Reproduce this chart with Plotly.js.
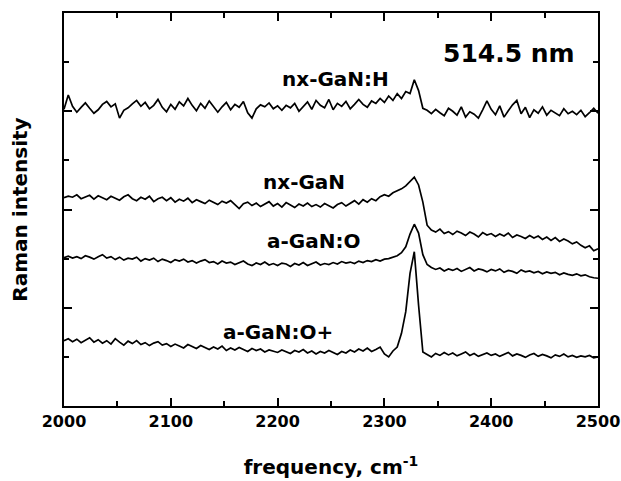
<!DOCTYPE html>
<html>
<head>
<meta charset="utf-8">
<script src="https://cdn.plot.ly/plotly-3.0.1.min.js"></script>
<style>html,body{margin:0;padding:0;background:#fff;}#chart{width:621px;height:481px;}</style>
</head>
<body>
<div id="chart"></div>
<script>
// frequency grid, cm^-1 (2000..2500 step 4)
const frequency = [];
for (let f = 2000; f <= 2500; f += 4) frequency.push(f);

const seriesNames = ["nx-GaN:H", "nx-GaN", "a-GaN:O", "a-GaN:O+"];

const nxGaNH = [
  6.04, 6.33, 6.10, 5.98, 6.08, 6.17, 6.06, 5.96, 6.03, 6.14,
  6.20, 6.09, 6.15, 5.86, 6.02, 6.07, 6.15, 6.22, 6.10, 6.18,
  6.05, 6.12, 6.24, 6.08, 5.99, 6.14, 6.04, 6.19, 6.11, 6.26,
  6.12, 6.01, 6.16, 6.06, 6.21, 6.10, 5.98, 6.09, 6.18, 6.03,
  6.14, 6.08, 6.20, 5.97, 5.86, 6.05, 6.13, 6.09, 6.17, 6.05,
  6.11, 6.02, 6.12, 6.07, 6.16, 6.00, 6.09, 6.19, 6.04, 6.22,
  6.12, 6.07, 6.24, 6.03, 6.16, 6.10, 6.20, 6.05, 6.14, 6.24,
  6.14, 6.08, 6.21, 6.16, 6.26, 6.18, 6.31, 6.22, 6.36, 6.26,
  6.40, 6.36, 6.64, 6.42, 6.06, 6.02, 5.95, 6.04, 5.97, 5.91,
  6.06, 6.00, 5.92, 6.09, 5.88, 5.99, 5.94, 5.86, 6.03, 6.21,
  6.04, 5.93, 6.11, 5.88, 6.01, 6.13, 6.22, 5.95, 6.08, 5.87,
  6.03, 5.96, 6.09, 5.92, 6.02, 5.97, 5.91, 6.05, 5.95, 6.00,
  5.93, 6.02, 5.89, 5.97, 6.06, 5.96
];

const nxGaN = [
  4.24, 4.27, 4.25, 4.30, 4.22, 4.26, 4.29, 4.21, 4.28, 4.24,
  4.20, 4.27, 4.23, 4.19, 4.26, 4.30, 4.22, 4.18, 4.25, 4.21,
  4.27, 4.16, 4.22, 4.25, 4.18, 4.24, 4.15, 4.21, 4.17, 4.23,
  4.14, 4.20, 4.16, 4.12, 4.19, 4.15, 4.10, 4.17, 4.13, 4.18,
  4.09, 4.02, 4.12, 4.15, 4.08, 4.13, 4.06, 4.11, 4.16, 4.07,
  4.12, 4.05, 4.14, 4.09, 4.04, 4.11, 4.07, 4.13, 4.06, 4.10,
  4.05, 4.12, 4.08, 4.03, 4.10, 4.14, 4.07, 4.12, 4.18, 4.11,
  4.20, 4.15, 4.22, 4.18, 4.26, 4.30, 4.27, 4.34, 4.38, 4.42,
  4.48, 4.56, 4.66, 4.50, 4.15, 3.68, 3.58, 3.54, 3.60, 3.51,
  3.55, 3.49, 3.56, 3.52, 3.47, 3.54, 3.50, 3.44, 3.53, 3.48,
  3.51, 3.45, 3.50, 3.46, 3.52, 3.43, 3.48, 3.45, 3.41, 3.47,
  3.42, 3.46, 3.39, 3.44, 3.37, 3.43, 3.35, 3.40, 3.36, 3.30,
  3.34, 3.27, 3.22, 3.26, 3.16, 3.20
];

const aGaNO = [
  3.02, 3.05, 3.01, 3.04, 3.00, 3.06, 3.03, 2.99, 3.04, 3.08,
  3.01, 3.04, 2.98, 3.03, 2.97, 3.01, 2.99, 3.03, 2.95, 3.00,
  2.97, 3.01, 2.94, 2.99, 2.96, 2.92, 2.98, 2.95, 2.99, 2.93,
  2.96, 2.91, 2.95, 2.98, 2.92, 2.94, 2.89, 2.95, 2.91, 2.93,
  2.88, 2.92, 2.95, 2.89, 2.86, 2.91, 2.88, 2.93, 2.87, 2.90,
  2.86, 2.91, 2.89, 2.84, 2.90, 2.87, 2.92, 2.86, 2.89, 2.93,
  2.87, 2.90, 2.88, 2.92, 2.89, 2.94, 2.91, 2.93, 2.90, 2.95,
  2.92, 2.96, 2.94, 2.98, 2.95, 2.99, 3.00, 3.03, 3.06, 3.12,
  3.24, 3.50, 3.70, 3.52, 3.08, 2.88, 2.82, 2.78, 2.81, 2.75,
  2.79, 2.76, 2.80, 2.74, 2.78, 2.82, 2.75, 2.79, 2.77, 2.73,
  2.78, 2.75, 2.79, 2.72, 2.76, 2.74, 2.70, 2.77, 2.73, 2.75,
  2.71, 2.74, 2.69, 2.73, 2.70, 2.72, 2.67, 2.71, 2.68, 2.66,
  2.69, 2.65, 2.67, 2.63, 2.61, 2.60
];

const aGaNOplus = [
  1.33, 1.37, 1.31, 1.36, 1.29, 1.34, 1.39, 1.30, 1.35, 1.28,
  1.33, 1.26, 1.37, 1.30, 1.24, 1.32, 1.27, 1.33, 1.25, 1.29,
  1.23, 1.28, 1.31, 1.24, 1.27, 1.21, 1.26, 1.22, 1.18, 1.25,
  1.21, 1.17, 1.23, 1.19, 1.15, 1.20, 1.16, 1.22, 1.13, 1.18,
  1.14, 1.19, 1.15, 1.11, 1.17, 1.13, 1.16, 1.10, 1.14, 1.12,
  1.09, 1.14, 1.11, 1.07, 1.13, 1.10, 1.15, 1.08, 1.12, 1.06,
  1.11, 1.08, 1.13, 1.09, 1.05, 1.11, 1.08, 1.14, 1.10, 1.16,
  1.12, 1.18, 1.11, 1.15, 1.20, 1.06, 1.00, 1.12, 1.20, 1.48,
  1.92, 2.70, 3.14, 2.05, 1.10, 1.05, 1.00, 1.07, 1.03, 1.09,
  1.04, 1.08, 1.02, 1.06, 1.10, 1.03, 1.07, 1.01, 1.05, 1.08,
  1.03, 1.06, 1.01, 1.05, 1.09, 1.02, 1.06, 1.03, 0.99, 1.04,
  1.07, 1.01, 1.05, 1.02, 0.98, 1.04, 1.01, 1.06, 1.00, 1.03,
  0.99, 1.02, 1.00, 1.03, 0.98, 1.00
];

const xTickValues = [2000, 2100, 2200, 2300, 2400, 2500];
const xTickLabels = ["2000", "2100", "2200", "2300", "2400", "2500"];
const laserLabel = "514.5 nm";

const FONT = "DejaVu Sans, Liberation Sans, Arial, sans-serif";
const allSeries = [nxGaNH, nxGaN, aGaNO, aGaNOplus];
const traces = allSeries.map((ys, k) => ({
  type: "scatter", mode: "lines", name: seriesNames[k],
  x: frequency, y: ys,
  line: {color: "#000", width: 1.7}, hoverinfo: "skip"
}));

const labelPos = [[2254, 6.66], [2225, 4.55], [2234, 3.36], [2200, 1.51]];
const annotations = seriesNames.map((n, k) => ({
  text: "<b>" + n + "</b>", x: labelPos[k][0], y: labelPos[k][1],
  xref: "x", yref: "y", showarrow: false, xanchor: "center", yanchor: "middle",
  font: {family: FONT, size: 20, color: "#000"}
}));
annotations.push({
  text: "<b>" + laserLabel + "</b>", x: 2417, y: 7.17, xref: "x", yref: "y",
  showarrow: false, xanchor: "center", yanchor: "middle",
  font: {family: FONT, size: 25, color: "#000"}
});

const layout = {
  width: 621, height: 481,
  margin: {l: 64, r: 23, t: 13, b: 75},
  paper_bgcolor: "#fff", plot_bgcolor: "#fff",
  showlegend: false,
  font: {family: FONT, color: "#000"},
  xaxis: {
    range: [2000, 2500], tickvals: xTickValues, ticktext: xTickLabels,
    ticks: "inside", ticklen: 8, tickwidth: 2, tickcolor: "#000",
    minor: {dtick: 50, tick0: 2000, ticks: "inside", ticklen: 5, tickwidth: 2, tickcolor: "#000"},
    showline: true, linewidth: 2, linecolor: "#000", mirror: "ticks",
    showgrid: false, zeroline: false,
    ticklabelstandoff: 0,
    tickfont: {family: FONT, size: 16, color: "#000", weight: "bold"},
    title: {text: "<b>frequency, cm<sup>-1</sup></b>", font: {family: FONT, size: 20, color: "#000"}, standoff: 30}
  },
  yaxis: {
    range: [0, 8], tick0: 0, dtick: 2, showticklabels: false,
    ticks: "inside", ticklen: 8, tickwidth: 2, tickcolor: "#000",
    minor: {dtick: 1, tick0: 0, ticks: "inside", ticklen: 5, tickwidth: 2, tickcolor: "#000"},
    showline: true, linewidth: 2, linecolor: "#000", mirror: "ticks",
    showgrid: false, zeroline: false,
    title: {text: "<b>Raman intensity</b>", font: {family: FONT, size: 20, color: "#000"}, standoff: 29}
  },
  annotations: annotations
};

Plotly.newPlot("chart", traces, layout, {staticPlot: true, displayModeBar: false});
</script>
</body>
</html>
